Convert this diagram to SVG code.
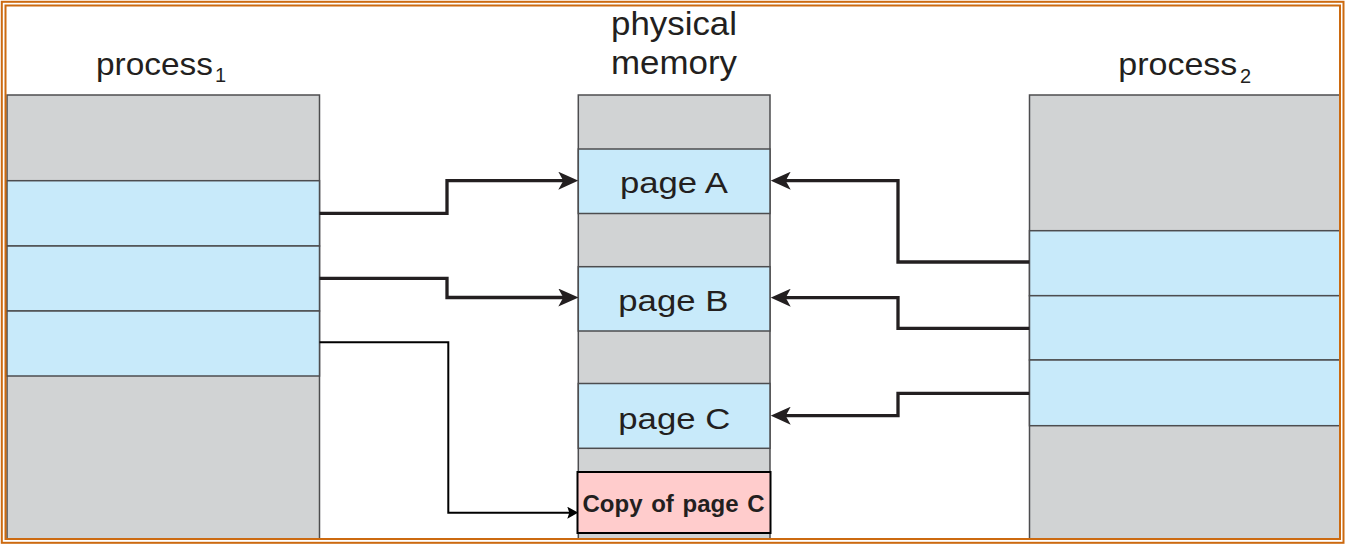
<svg xmlns="http://www.w3.org/2000/svg" width="1346" height="545" viewBox="0 0 1346 545">
<style>
  .grey { fill: #D1D3D4; stroke: #4D4D4F; stroke-width: 1.5; }
  .blue { fill: #C8EAFA; stroke: #4D4D4F; stroke-width: 1.5; }
  .lbl { font-family: "Liberation Sans", Arial, sans-serif; fill: #231F20; }
  .conn { fill: none; stroke: #231F20; stroke-width: 3.3; }
  .thin { fill: none; stroke: #000000; stroke-width: 2; }
  .frame { fill: none; stroke: #CC6A10; stroke-width: 2; }
</style>
<defs>
  <marker id="arr" viewBox="0 -9 20 18" refX="9" refY="0" markerWidth="20" markerHeight="18" markerUnits="userSpaceOnUse" orient="auto">
    <path d="M20,0 L0,-9 L5,0 L0,9 Z" fill="#231F20"/>
  </marker>
  <marker id="arrThin" viewBox="0 -6 11 12" refX="5" refY="0" markerWidth="11" markerHeight="12" markerUnits="userSpaceOnUse" orient="auto">
    <path d="M11,0 L0,-6 L2,0 L0,6 Z" fill="#000000"/>
  </marker>
</defs>
<rect x="0" y="0" width="1346" height="545" fill="#FFFFFF"/>

<g id="process1">
  <rect class="grey" x="7" y="95" width="312.5" height="444"/>
  <rect class="blue" x="7" y="180.7" width="312.5" height="65.3"/>
  <rect class="blue" x="7" y="246" width="312.5" height="65"/>
  <rect class="blue" x="7" y="311" width="312.5" height="65"/>
  <text class="lbl" x="96" y="75" font-size="32" textLength="117" lengthAdjust="spacingAndGlyphs">process</text>
  <text class="lbl" x="215" y="82" font-size="20">1</text>
</g>

<g id="physical-memory">
  <rect class="grey" x="578.3" y="95" width="191.7" height="444"/>
  <rect class="blue" x="578.3" y="149" width="191.7" height="64.5"/>
  <rect class="blue" x="578.3" y="266.7" width="191.7" height="64.3"/>
  <rect class="blue" x="578.3" y="383.5" width="191.7" height="64.8"/>
  <text class="lbl" x="674" y="35" font-size="34" text-anchor="middle" textLength="126" lengthAdjust="spacingAndGlyphs">physical</text>
  <text class="lbl" x="674" y="74" font-size="34" text-anchor="middle" textLength="126" lengthAdjust="spacingAndGlyphs">memory</text>
  <text class="lbl" x="620" y="193" font-size="30" textLength="108" lengthAdjust="spacingAndGlyphs">page A</text>
  <text class="lbl" x="618.3" y="311" font-size="30" textLength="110" lengthAdjust="spacingAndGlyphs">page B</text>
  <text class="lbl" x="618.3" y="429" font-size="30" textLength="112" lengthAdjust="spacingAndGlyphs">page C</text>
</g>

<g id="copy-of-page-c">
  <rect x="577.5" y="472" width="193" height="61" fill="#FFCCCC" stroke="#000000" stroke-width="2"/>
  <text class="lbl" x="582.5" y="511.5" font-size="24" font-weight="bold" fill="#000000" word-spacing="2">Copy of page C</text>
</g>

<g id="process2">
  <rect class="grey" x="1029.5" y="95" width="310.5" height="444"/>
  <rect class="blue" x="1029.5" y="230.7" width="310.5" height="65"/>
  <rect class="blue" x="1029.5" y="295.7" width="310.5" height="64.3"/>
  <rect class="blue" x="1029.5" y="360" width="310.5" height="65.7"/>
  <text class="lbl" x="1118.3" y="75" font-size="32" textLength="119" lengthAdjust="spacingAndGlyphs">process</text>
  <text class="lbl" x="1240" y="83" font-size="20">2</text>
</g>

<g id="connectors">
  <path class="conn" d="M319.5,213.3 H447 V180.7 H567.3" marker-end="url(#arr)"/>
  <path class="conn" d="M319.5,278.3 H447 V297.5 H567.3" marker-end="url(#arr)"/>
  <path class="thin" d="M319.5,342.3 H448.3 V512.7 H572.3" marker-end="url(#arrThin)"/>
  <path class="conn" d="M1029.3,262 H898 V180.7 H781.7" marker-end="url(#arr)"/>
  <path class="conn" d="M1029.3,328.3 H898 V297.7 H781.7" marker-end="url(#arr)"/>
  <path class="conn" d="M1029.3,393.3 H898 V415.7 H781.7" marker-end="url(#arr)"/>
</g>

<g id="frame">
  <rect class="frame" x="1.8" y="1.8" width="1341.7" height="541"/>
  <rect class="frame" x="5.5" y="5.5" width="1334.5" height="533.5"/>
</g>
</svg>
